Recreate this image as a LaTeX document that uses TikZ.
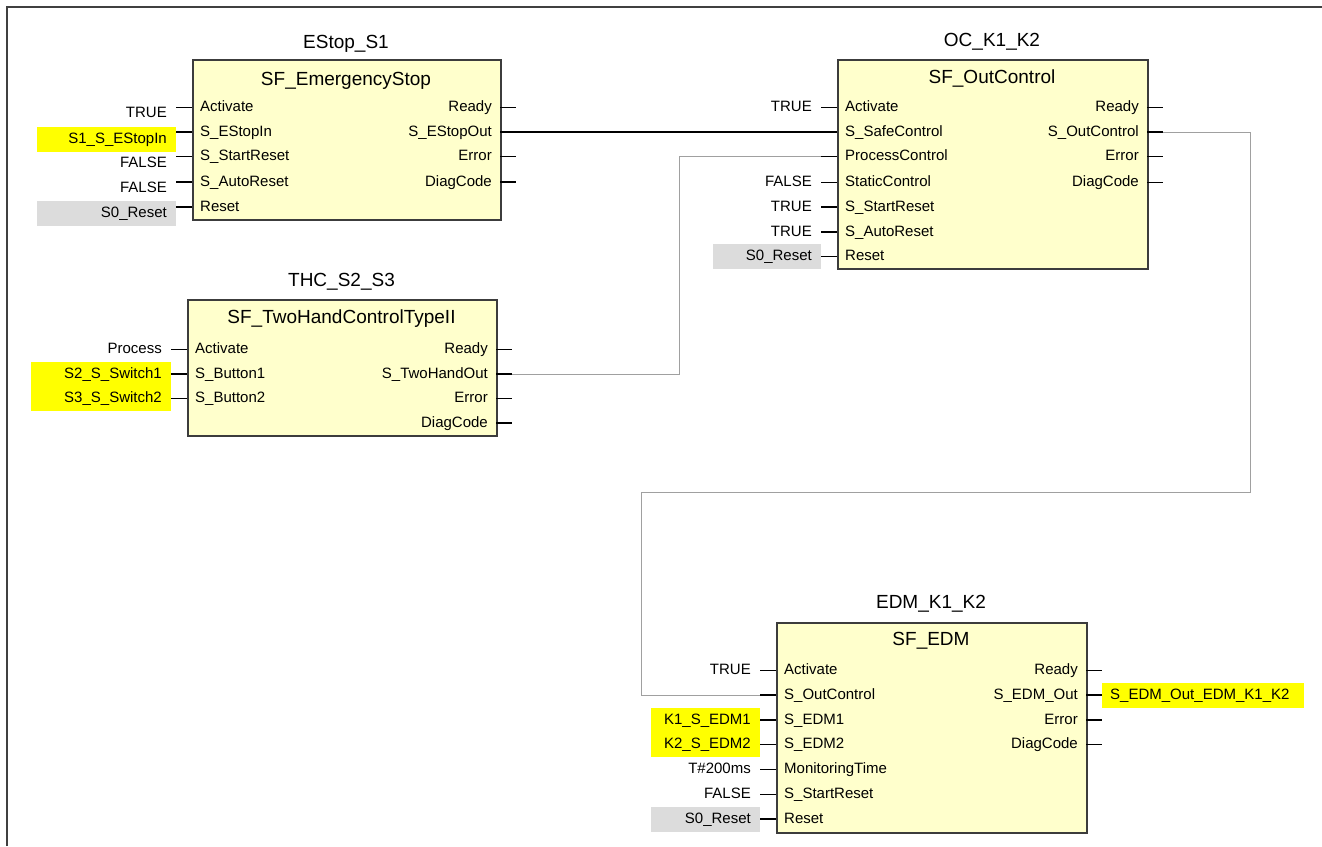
\documentclass[tikz,border=0pt]{standalone}
\usepackage{fontspec}
\setmainfont{Liberation Sans}
\usetikzlibrary{positioning,calc}
\definecolor{fbfill}{HTML}{FFFFCC}
\definecolor{fbline}{HTML}{3C3C3C}
\definecolor{hlyellow}{HTML}{FFFF00}
\definecolor{hlgrey}{HTML}{DCDCDC}
\definecolor{wiregrey}{HTML}{A0A0A0}
\definecolor{framegrey}{HTML}{404040}
\tikzset{
  fblock/.style = {rectangle, draw=fbline, line width=1.6pt, fill=fbfill,
                   anchor=north west, inner sep=0pt},
  fbname/.style = {font=\fontsize{19}{21}\selectfont, text height=14pt,
                   text depth=4pt, inner sep=0pt},
  pinin/.style  = {anchor=west, inner xsep=8pt, inner ysep=0pt,
                   font=\fontsize{15}{18}\selectfont, text height=11pt, text depth=3pt},
  pinout/.style = {pinin, anchor=east},
  val/.style    = {anchor=east, align=right, inner xsep=9pt, inner ysep=0pt,
                   minimum height=25pt, font=\fontsize{15}{18}\selectfont,
                   text height=11pt, text depth=3pt},
  nohl/.style   = {},
  hly/.style    = {fill=hlyellow},
  hlg/.style    = {fill=hlgrey},
  stub/.style   = {line width=1.2pt, black},
  wire/.style   = {line width=1.2pt, black},
  gwire/.style  = {line width=1pt, wiregrey},
}

\begin{document}
\begin{tikzpicture}[x=1pt, y=-1pt]
    \useasboundingbox (0,0) rectangle (1322,846);
    \draw[line width=2pt, framegrey] (7,846) -- (7,7) -- (1322,7);

    % EStop_S1
    \node[fblock, minimum width=308pt, minimum height=160pt] (estop) at (192,59) {};
    \node[fbname] (estop-inst) at (346,43) {EStop\_S1};
    \node[fbname] (estop-type) at (346,80) {SF\_EmergencyStop};
    \foreach \y/\nm/\lab in {107.5/1/Activate, 132/2/S\_EStopIn, 156.5/3/S\_StartReset,
                             182/4/S\_AutoReset, 207/5/Reset}{
      \node[pinin] (estop-i\nm) at (192,\y) {\lab};
      \draw[stub] (estop-i\nm.west) -- ++(-16,0);
    }
    \foreach \y/\nm/\lab in {107.5/1/Ready, 132/2/S\_EStopOut, 156.5/3/Error, 182/4/DiagCode}{
      \node[pinout] (estop-o\nm) at (500,\y) {\lab};
      \draw[stub] (estop-o\nm.east) -- ++(16,0);
    }
    \foreach \y/\nm/\txt/\hl in {113.5/1/TRUE/nohl, 139.5/2/S1\_S\_EStopIn/hly,
                                 163/3/FALSE/nohl, 188/4/FALSE/nohl, 213/5/S0\_Reset/hlg}{
      \node[val, \hl, text width=121pt] (estop-v\nm) at (176,\y) {\txt};
    }

    % THC_S2_S3
    \node[fblock, minimum width=309pt, minimum height=136pt] (thc) at (187,299) {};
    \node[fbname] (thc-inst) at (341.5,281) {THC\_S2\_S3};
    \node[fbname] (thc-type) at (341.5,318) {SF\_TwoHandControlTypeII};
    \foreach \y/\nm/\lab in {349.5/1/Activate, 374/2/S\_Button1, 398.5/3/S\_Button2}{
      \node[pinin] (thc-i\nm) at (187,\y) {\lab};
      \draw[stub] (thc-i\nm.west) -- ++(-16,0);
    }
    \foreach \y/\nm/\lab in {349.5/1/Ready, 374/2/S\_TwoHandOut, 398.5/3/Error, 423/4/DiagCode}{
      \node[pinout] (thc-o\nm) at (496,\y) {\lab};
      \draw[stub] (thc-o\nm.east) -- ++(16,0);
    }
    \foreach \y/\nm/\txt/\hl in {349.5/1/Process/nohl, 374/2/S2\_S\_Switch1/hly,
                                 398.5/3/S3\_S\_Switch2/hly}{
      \node[val, \hl, text width=122pt] (thc-v\nm) at (171,\y) {\txt};
    }

    % OC_K1_K2
    \node[fblock, minimum width=310pt, minimum height=209pt] (oc) at (837,59) {};
    \node[fbname] (oc-inst) at (992,41) {OC\_K1\_K2};
    \node[fbname] (oc-type) at (992,78) {SF\_OutControl};
    \foreach \y/\nm/\lab in {107.5/1/Activate, 132/2/S\_SafeControl, 156.5/3/ProcessControl,
                             182.5/4/StaticControl, 207/5/S\_StartReset, 232/6/S\_AutoReset,
                             256.5/7/Reset}{
      \node[pinin] (oc-i\nm) at (837,\y) {\lab};
      \draw[stub] (oc-i\nm.west) -- ++(-16,0);
    }
    \foreach \y/\nm/\lab in {107.5/1/Ready, 132/2/S\_OutControl, 156.5/3/Error, 182.5/4/DiagCode}{
      \node[pinout] (oc-o\nm) at (1147,\y) {\lab};
      \draw[stub] (oc-o\nm.east) -- ++(16,0);
    }
    \foreach \y/\nm/\txt/\hl in {107.5/1/TRUE/nohl, 182.5/4/FALSE/nohl, 207/5/TRUE/nohl,
                                 232/6/TRUE/nohl, 256.5/7/S0\_Reset/hlg}{
      \node[val, \hl, text width=90pt] (oc-v\nm) at (821,\y) {\txt};
    }

    % EDM_K1_K2
    \node[fblock, minimum width=310pt, minimum height=210pt] (edm) at (776,622) {};
    \node[fbname] (edm-inst) at (931,603) {EDM\_K1\_K2};
    \node[fbname] (edm-type) at (931,640) {SF\_EDM};
    \foreach \y/\nm/\lab in {670.5/1/Activate, 695/2/S\_OutControl, 720/3/S\_EDM1,
                             744.5/4/S\_EDM2, 769.5/5/MonitoringTime, 794.5/6/S\_StartReset,
                             819/7/Reset}{
      \node[pinin] (edm-i\nm) at (776,\y) {\lab};
      \draw[stub] (edm-i\nm.west) -- ++(-16,0);
    }
    \foreach \y/\nm/\lab in {670.5/1/Ready, 695/2/S\_EDM\_Out, 720/3/Error, 744.5/4/DiagCode}{
      \node[pinout] (edm-o\nm) at (1086,\y) {\lab};
      \draw[stub] (edm-o\nm.east) -- ++(16,0);
    }
    \foreach \y/\nm/\txt/\hl in {670.5/1/TRUE/nohl, 720/3/K1\_S\_EDM1/hly, 744.5/4/K2\_S\_EDM2/hly,
                                 769.5/5/T\#200ms/nohl, 794.5/6/FALSE/nohl, 819/7/S0\_Reset/hlg}{
      \node[val, \hl, text width=91pt] (edm-v\nm) at (760,\y) {\txt};
    }
    \node[val, hly, anchor=west, align=left, inner xsep=8pt, text width=186pt]
      (edm-out) at (1102,695) {S\_EDM\_Out\_EDM\_K1\_K2};

    % connections
    \coordinate (thc-bend) at (679,0);
    \coordinate (oc-bend1) at (1250,492);
    \coordinate (oc-bend2) at (641,492);
    \draw[wire] ([xshift=16pt]estop-o2.east) -- ([xshift=-16pt]oc-i2.west);
    \draw[gwire] ([xshift=16pt]thc-o2.east) -| (thc-bend |- oc-i3.west)
      -- ([xshift=-16pt]oc-i3.west);
    \draw[gwire] ([xshift=16pt]oc-o2.east) -| (oc-bend1) -- (oc-bend2)
      |- ([xshift=-16pt]edm-i2.west);
\end{tikzpicture}
\end{document}
